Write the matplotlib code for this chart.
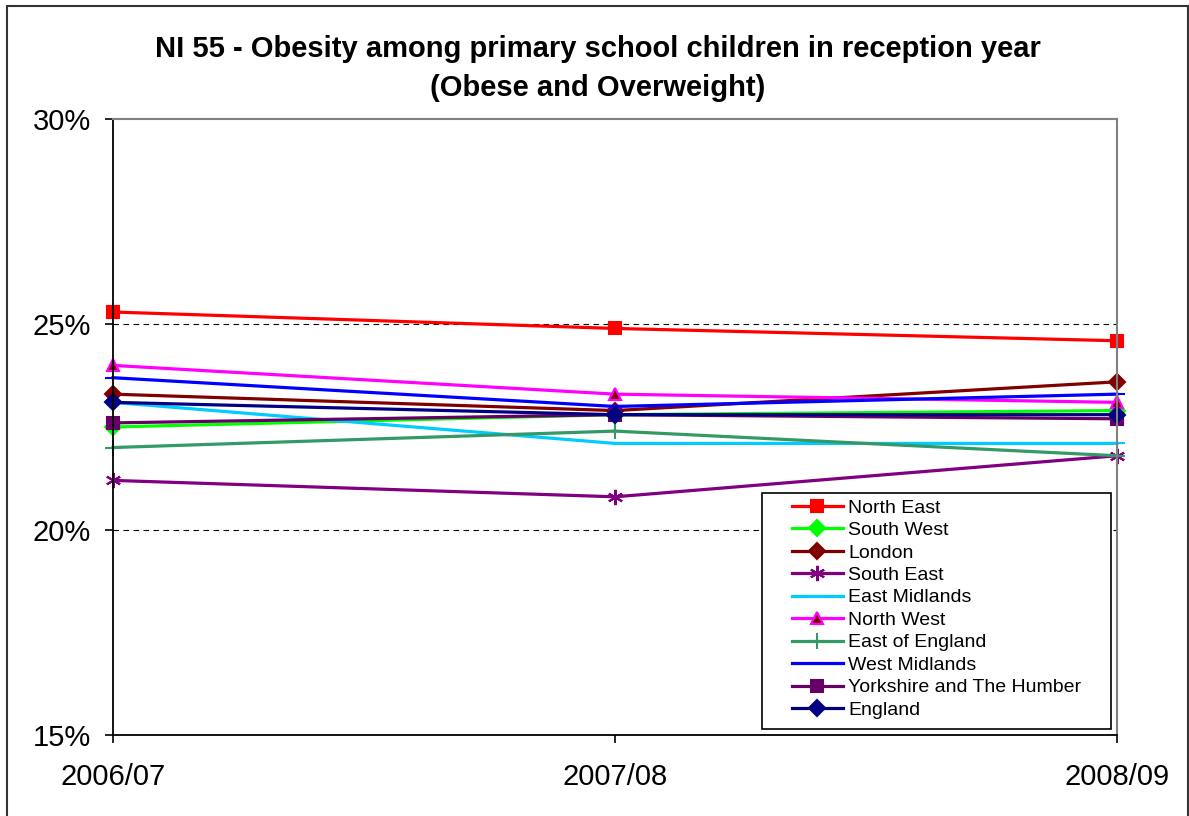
import matplotlib
matplotlib.use("Agg")
import matplotlib.pyplot as plt
from matplotlib.patches import Rectangle
from matplotlib.ticker import FuncFormatter

plt.rcParams['font.family'] = ['Liberation Sans', 'DejaVu Sans']

years = ['2006/07', '2007/08', '2008/09']

north_east = [25.3, 24.9, 24.6]
south_west = [22.5, 22.8, 22.9]
london = [23.3, 22.9, 23.6]
south_east = [21.2, 20.8, 21.8]
east_midlands = [23.1, 22.1, 22.1]
north_west = [24.0, 23.3, 23.1]
east_of_england = [22.0, 22.4, 21.8]
west_midlands = [23.7, 23.0, 23.3]
yorkshire = [22.6, 22.8, 22.7]
england = [23.1, 22.8, 22.8]

# name, values, colour, marker, marker face
series = [
    ('North East', north_east, '#FF0000', 's', '#FF0000'),
    ('South West', south_west, '#00FF00', 'D', '#00FF00'),
    ('London', london, '#800000', 'D', '#800000'),
    ('South East', south_east, '#800080', (6, 2, 0), '#800080'),
    ('East Midlands', east_midlands, '#00CCFF', '_', '#00CCFF'),
    ('North West', north_west, '#FF00FF', '^', '#800000'),
    ('East of England', east_of_england, '#339966', '+', '#339966'),
    ('West Midlands', west_midlands, '#0000FF', '_', '#0000FF'),
    ('Yorkshire and The Humber', yorkshire, '#660066', 's', '#660066'),
    ('England', england, '#000080', 'D', '#000080'),
]

fig = plt.figure(figsize=(11.89, 8.16), dpi=100)
ax = fig.add_axes([113 / 1189, 1 - 735 / 816, (1117 - 113) / 1189, (735 - 119) / 816])

x = list(range(len(years)))
for name, vals, col, mk, face in series:
    ms = 8
    if mk in ('_', '+'):
        ms = 12
    if mk == (6, 2, 0):
        ms = 11
    ax.plot(x, vals, color=col, lw=2.3, marker=mk, markersize=ms,
            markerfacecolor=face, markeredgecolor=col, markeredgewidth=1.5,
            label=name, clip_on=False)

ax.set_xlim(0, 2)
ax.set_ylim(15, 30)
ax.set_xticks(x)
ax.set_xticklabels(years)
ax.set_yticks([15, 20, 25, 30])
ax.yaxis.set_major_formatter(FuncFormatter(lambda v, p: '%d%%' % v))
ax.tick_params(axis='both', labelsize=21, direction='out', length=6, width=1.2)
ax.tick_params(axis='x', pad=14)
ax.tick_params(axis='y', pad=10)

for yv in [20, 25]:
    ax.axhline(yv, color='black', lw=0.8, ls=(0, (5, 4)), zorder=0)

ax.spines['left'].set_color('black')
ax.spines['bottom'].set_color('black')
ax.spines['left'].set_linewidth(1.3)
ax.spines['bottom'].set_linewidth(1.3)
ax.spines['top'].set_color('#808080')
ax.spines['right'].set_color('#808080')
ax.spines['top'].set_linewidth(1.5)
ax.spines['right'].set_linewidth(1.5)

fig.text(598 / 1189, 1 - 49 / 816, 'NI 55 - Obesity among primary school children in reception year',
         ha='center', va='center', fontsize=21, fontweight='bold')
fig.text(598 / 1189, 1 - 88 / 816, '(Obese and Overweight)',
         ha='center', va='center', fontsize=21, fontweight='bold')

# legend box drawn separately so it can be wider than its content
box = Rectangle((762 / 1189, 1 - 729 / 816), (1111 - 762) / 1189, (729 - 493) / 816,
                transform=fig.transFigure, facecolor='white', edgecolor='black',
                lw=1.2, zorder=5)
fig.patches.append(box)

leg = ax.legend(loc='upper left', bbox_to_anchor=(792 / 1189, 1 - 499 / 816),
                bbox_transform=fig.transFigure, fontsize=14, frameon=False,
                handlelength=2.6, handletextpad=0.3, labelspacing=0.25,
                borderpad=0.0, borderaxespad=0)
leg.set_zorder(6)
fig.legends.append(leg)
ax.get_legend().remove()

fig.patches.append(Rectangle((7 / 1189, -0.01), (1188 - 7) / 1189, 1.01 - 6 / 816,
                             transform=fig.transFigure, fill=False,
                             edgecolor='#333333', lw=1.5))

fig.savefig('out.png', dpi=100)
